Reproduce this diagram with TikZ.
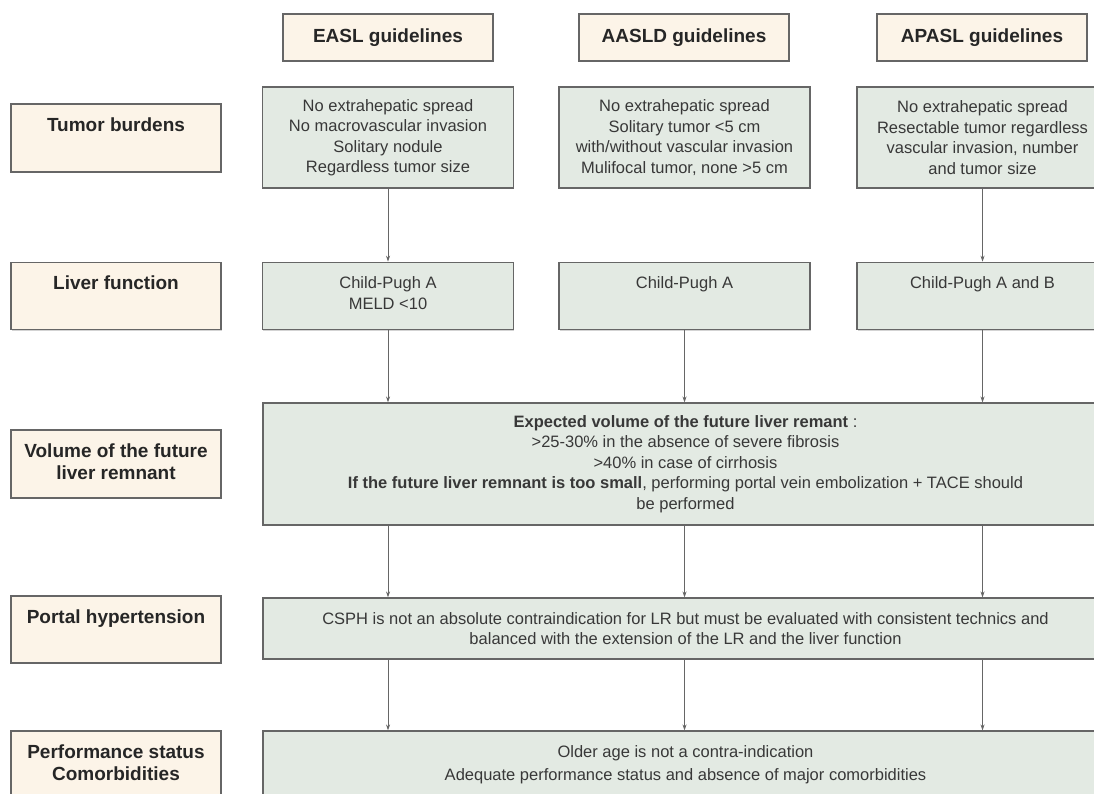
\documentclass[tikz,border=0pt]{standalone}
\usepackage{fontspec}
\setmainfont{Liberation Sans}
\usetikzlibrary{positioning,arrows.meta,shadows}
\definecolor{cream}{HTML}{FCF4E8}
\definecolor{sage}{HTML}{E3EAE3}
\definecolor{edge}{HTML}{666666}
\definecolor{ink}{HTML}{383838}
\tikzset{
  box/.style={draw=edge,line width=1.1pt,inner sep=0pt,
    drop shadow={shadow xshift=0.6pt,shadow yshift=-1.2pt,opacity=0.35}},
  headbox/.style={box,fill=cream,minimum width=210pt,minimum height=47pt,
    font=\fontsize{19}{22}\selectfont\bfseries,text=black!85},
  lblbox/.style={box,fill=cream,minimum width=210pt},
  critbox/.style={box,fill=sage,align=center,
    font=\fontsize{16.5}{20.5}\selectfont,text=ink},
  lbltext/.style={inner sep=0pt,align=center,
    font=\fontsize{19}{22}\selectfont\bfseries,text=black!85},
  crittext/.style={inner sep=0pt,align=center,
    font=\fontsize{16.5}{20.5}\selectfont,text=ink},
  arr/.style={draw=edge,line width=0.8pt,-{Stealth[length=6pt,width=4pt]}}
}
\begin{document}
\begin{tikzpicture}[x=1pt,y=-1pt]
		\useasboundingbox (0,0) rectangle (1094,793);
		\clip (0,0) rectangle (1094,793);
		% guideline headers
		\node[headbox] (hdE) at (388,37.5) {EASL guidelines};
		\node[headbox] (hdA) at (684,37.5) {AASLD guidelines};
		\node[headbox] (hdP) at (982,37.5) {APASL guidelines};
		% criteria labels on the left
		\node[lblbox,minimum height=68pt] (lbTum) at (116,138) {};
		\node[lbltext,below=14pt of lbTum.north] (txTum) {Tumor burdens};
		\node[lblbox,minimum height=67pt] (lbLiv) at (116,296) {};
		\node[lbltext,below=14pt of lbLiv.north] (txLiv) {Liver function};
		\node[lblbox,minimum height=68pt] (lbVol) at (116,464) {};
		\node[lbltext,below=14pt of lbVol.north] (txVol) {Volume of the future\\liver remnant};
		\node[lblbox,minimum height=67pt] (lbHyp) at (116,629.5) {};
		\node[lbltext,below=14pt of lbHyp.north] (txHyp) {Portal hypertension};
		\node[lblbox,minimum height=70pt] (lbPer) at (116,766) {};
		\node[lbltext,below=14pt of lbPer.north] (txPer) {Performance status\\Comorbidities};
		% tumor burdens
		\node[critbox,minimum width=251pt,minimum height=101pt] (tumE) at (388,137.5)
			{No extrahepatic spread\\No macrovascular invasion\\Solitary nodule\\Regardless tumor size};
		\node[critbox,minimum width=251pt,minimum height=101pt] (tumA) at (684.5,137.5)
			{No extrahepatic spread\\Solitary tumor <5 cm\\with/without vascular invasion\\Mulifocal tumor, none >5 cm};
		\node[critbox,minimum width=251pt,minimum height=101pt] (tumP) at (982.5,137.5)
			{No extrahepatic spread\\Resectable tumor regardless\\vascular invasion, number\\and tumor size};
		% liver function
		\node[critbox,minimum width=251pt,minimum height=67.5pt] (livE) at (388,296) {};
		\node[crittext,below=15pt of livE.north] (txLivE) {Child-Pugh A\\MELD <10};
		\node[critbox,minimum width=251pt,minimum height=67.5pt] (livA) at (684.5,296) {};
		\node[crittext,below=15pt of livA.north] (txLivA) {Child-Pugh A};
		\node[critbox,minimum width=251pt,minimum height=67.5pt] (livP) at (982.5,296) {};
		\node[crittext,below=15pt of livP.north] (txLivP) {Child-Pugh A and B};
		% shared rows
		\node[critbox,minimum width=845pt,minimum height=122pt] (vol) at (685.5,464)
			{\textbf{Expected volume of the future liver remant} :\\
			 >25-30\% in the absence of severe fibrosis\\
			 >40\% in case of cirrhosis\\
			 \textbf{If the future liver remnant is too small}, performing portal vein embolization + TACE should\\
			 be performed};
		\node[critbox,minimum width=845pt,minimum height=61pt] (hyp) at (685.5,628.5)
			{CSPH is not an absolute contraindication for LR but must be evaluated with consistent technics and\\
			 balanced with the extension of the LR and the liver function};
		\node[critbox,minimum width=845pt,minimum height=70pt] (perf) at (685.5,766) {};
		\node[crittext,below=15pt of perf.north,font=\fontsize{16.5}{22.5}\selectfont] (txPerf)
			{Older age is not a contra-indication\\Adequate performance status and absence of major comorbidities};
		% connectors
		\draw[arr] (tumE) -- (livE);
		\draw[arr] (tumP) -- (livP);
		\foreach \c in {E,A,P} {
			\draw[arr] (liv\c) -- (liv\c |- vol.north);
			\draw[arr] (liv\c |- vol.south) -- (liv\c |- hyp.north);
			\draw[arr] (liv\c |- hyp.south) -- (liv\c |- perf.north);
		}
\end{tikzpicture}
\end{document}
